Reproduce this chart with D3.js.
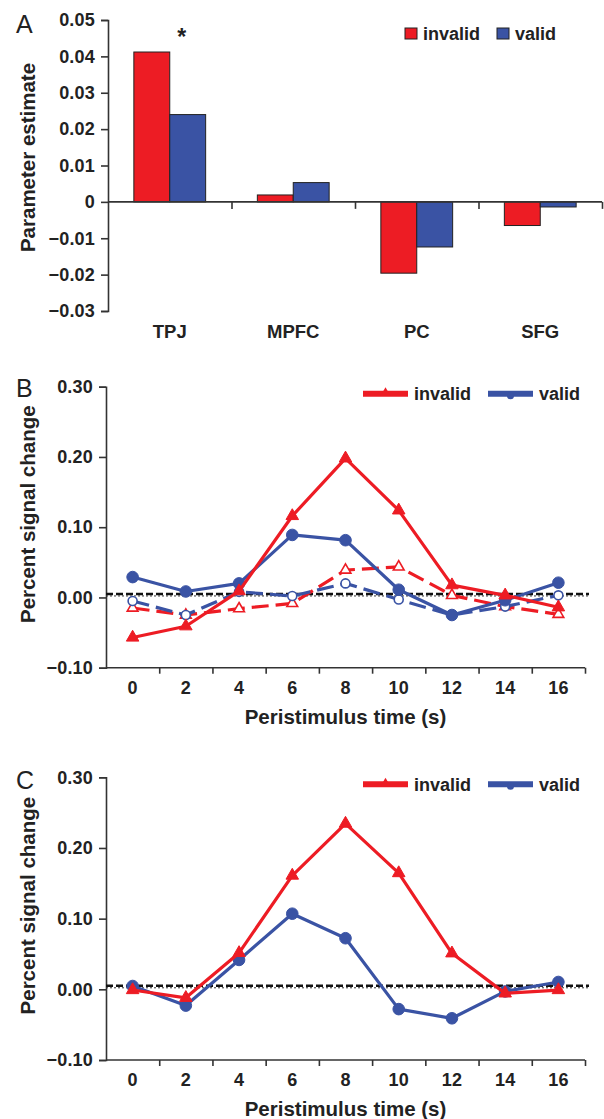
<!DOCTYPE html>
<html><head><meta charset="utf-8">
<script src="https://cdn.jsdelivr.net/npm/d3@7"></script>
<style>
html,body{margin:0;padding:0;background:#fff;}
svg{display:block;font-family:"Liberation Sans",Arial,sans-serif;}
.tick text{font-weight:bold;}
</style></head>
<body><svg id="c" width="604" height="1119"></svg>
<script>
// ---------- Data ----------
const categories = ["TPJ","MPFC","PC","SFG"];
const seriesNames = ["invalid","valid"];
const aInvalid = [0.0412, 0.0019, -0.0196, -0.0065];
const aValid   = [0.0240, 0.0053, -0.0124, -0.0014];
const aTicks = [-0.03,-0.02,-0.01,0,0.01,0.02,0.03,0.04,0.05];

const times = [0,2,4,6,8,10,12,14,16];
const bInvalid       = [-0.057,-0.041, 0.009, 0.116, 0.198, 0.124, 0.0175, 0.003,-0.014];
const bValid         = [ 0.029, 0.0085, 0.020, 0.089, 0.0815, 0.011,-0.025,-0.004, 0.021];
const bInvalidDashed = [-0.015,-0.025,-0.016,-0.0085, 0.039, 0.0435, 0.003,-0.013,-0.024];
const bValidDashed   = [-0.005,-0.025, 0.008, 0.002, 0.020,-0.003,-0.025,-0.013, 0.003];
const cInvalid = [-0.001,-0.012, 0.0515, 0.161, 0.2345, 0.1645, 0.051,-0.0057,-0.001];
const cValid   = [ 0.0047,-0.023, 0.0416, 0.107, 0.0723,-0.028,-0.041,-0.003, 0.0104];
const lineTicks = [-0.10,0.00,0.10,0.20,0.30];
const baselineValue = 0.005;

const RED = "#ed1c24", BLUE = "#3a53a4", AX = "#333";
const svg = d3.select("#c");
const tickFont = "18px", titleFont = "20.5px";

function styleAxis(g){
  g.selectAll(".domain").attr("stroke",AX).attr("stroke-width",1.6);
  g.selectAll(".tick line").attr("stroke",AX).attr("stroke-width",1.6);
  g.selectAll(".tick text").attr("fill","#222").style("font-size",tickFont).style("letter-spacing","0.2px");
}

// ---------- Panel A ----------
(function(){
  const left=108, right=602, top=20, bottom=311;
  const y = d3.scaleLinear().domain([-0.03,0.05]).range([bottom,top]);
  const x0 = d3.scaleBand().domain(categories).range([left,right]).padding(0);
  const x1 = d3.scaleBand().domain(seriesNames).range([0,x0.bandwidth()]).paddingInner(0).paddingOuter(0.72);
  const g = svg.append("g");
  const data = categories.map((c,i)=>({c, vals:[{s:"invalid",v:aInvalid[i]},{s:"valid",v:aValid[i]}]}));
  g.selectAll("g.cat").data(data).join("g").attr("transform",d=>`translate(${x0(d.c)},0)`)
    .selectAll("rect").data(d=>d.vals).join("rect")
    .attr("x",d=>x1(d.s)).attr("width",x1.bandwidth())
    .attr("y",d=>y(Math.max(0,d.v))).attr("height",d=>Math.abs(y(d.v)-y(0)))
    .attr("fill",d=>d.s==="invalid"?RED:BLUE).attr("stroke","#222").attr("stroke-width",1);
  const ya = g.append("g").attr("transform",`translate(${left},0)`)
    .call(d3.axisLeft(y).tickValues(aTicks).tickSize(7).tickPadding(6).tickFormat(d=>Math.abs(d)<1e-9?"0":d3.format(".2f")(d)));
  styleAxis(ya);
  const bnd = d3.scaleLinear().domain([0,categories.length]).range([left,right]);
  const xa = g.append("g").attr("transform",`translate(0,${y(0)})`)
    .call(d3.axisBottom(bnd).tickValues([1,2,3,4]).tickSize(7).tickFormat(""));
  styleAxis(xa);
  xa.select(".domain").attr("d",`M${left},0H${right}`);
  const xl = g.append("g").attr("transform",`translate(0,${bottom+14})`)
    .call(d3.axisBottom(x0).tickSize(0).tickPadding(0));
  xl.select(".domain").remove();
  xl.selectAll(".tick text").attr("fill","#222").style("font-size","18.5px").attr("dy","0.72em");
  g.append("text").attr("x",x0("TPJ")+x0.bandwidth()/2+12).attr("y",45).attr("text-anchor","middle")
    .style("font-size","23px").style("font-weight","bold").attr("fill","#222").text("*");
  g.append("text").attr("transform",`translate(35,${(top+bottom)/2-8}) rotate(-90)`).attr("text-anchor","middle")
    .style("font-size",titleFont).style("font-weight","bold").attr("fill","#222").text("Parameter estimate");
  g.append("text").attr("x",16).attr("y",33).style("font-size","25px").attr("fill","#222").text("A");
  const items=[{s:"invalid",x:405,c:RED},{s:"valid",x:497,c:BLUE}];
  items.forEach(it=>{
    g.append("rect").attr("x",it.x).attr("y",28).attr("width",12).attr("height",11).attr("fill",it.c).attr("stroke","#222").attr("stroke-width",1);
    g.append("text").attr("x",it.x+18).attr("y",40).style("font-size","18px").style("font-weight","bold").attr("fill","#222").text(it.s);
  });
})();

// ---------- Line panels ----------
function linePanel(opt){
  const left=106, right=585, top=opt.top, bottom=opt.bottom;
  const y = d3.scaleLinear().domain([-0.10,0.30]).range([bottom,top]);
  const x = d3.scaleBand().domain(times).range([left,right]).padding(0);
  const cx = t=>x(t)+x.bandwidth()/2;
  const g = svg.append("g");
  const ya = g.append("g").attr("transform",`translate(${left},0)`)
    .call(d3.axisLeft(y).tickValues(lineTicks).tickSize(7).tickPadding(6).tickFormat(d3.format(".2f")));
  styleAxis(ya);
  const bnd = d3.scaleLinear().domain([0,times.length]).range([left,right]);
  const xa = g.append("g").attr("transform",`translate(0,${bottom})`)
    .call(d3.axisBottom(bnd).tickValues(d3.range(1,times.length+1)).tickSize(6).tickFormat(""));
  styleAxis(xa);
  xa.select(".domain").attr("d",`M${left},0H${right}`);
  const xl = g.append("g").attr("transform",`translate(0,${bottom+13})`)
    .call(d3.axisBottom(x).tickSize(0).tickPadding(0));
  xl.select(".domain").remove();
  xl.selectAll(".tick text").attr("fill","#222").style("font-size",tickFont).style("letter-spacing","0.2px").attr("dy","0.72em");
  g.append("line").attr("x1",left).attr("x2",589).attr("y1",y(baselineValue)).attr("y2",y(baselineValue))
    .attr("stroke","#111").attr("stroke-width",2.4).attr("stroke-dasharray","7,3");
  g.append("line").attr("x1",left).attr("x2",589).attr("y1",y(baselineValue)+2).attr("y2",y(baselineValue)+2)
    .attr("stroke","#333").attr("stroke-width",1).attr("stroke-dasharray","2,2");
  const line = d3.line().x((d,i)=>cx(times[i])).y(d=>y(d));
  const tri = d3.symbol().type(d3.symbolTriangle);
  opt.series.forEach(s=>{
    g.append("path").datum(s.values).attr("d",line).attr("fill","none").attr("stroke",s.color)
      .attr("stroke-width",3.2).attr("stroke-linejoin","round").attr("stroke-dasharray",s.dashed?"17,7":null);
    const m = g.append("g");
    s.values.forEach((v,i)=>{
      if(s.marker==="tri"){
        m.append("path").attr("d",tri.size(s.dashed?50:68)()).attr("transform",`translate(${cx(times[i])},${y(v)})`)
          .attr("fill",s.dashed?"#fff":s.color).attr("stroke",s.color).attr("stroke-width",s.dashed?1.6:1);
      } else {
        m.append("circle").attr("cx",cx(times[i])).attr("cy",y(v)).attr("r",s.dashed?4.5:5.8)
          .attr("fill",s.dashed?"#fff":s.color).attr("stroke",s.color).attr("stroke-width",s.dashed?1.6:1);
      }
    });
  });
  g.append("text").attr("transform",`translate(35,${(top+bottom)/2-13}) rotate(-90)`).attr("text-anchor","middle")
    .style("font-size",titleFont).style("font-weight","bold").attr("fill","#222").text("Percent signal change");
  g.append("text").attr("x",(left+right)/2).attr("y",bottom+56).attr("text-anchor","middle")
    .style("font-size",titleFont).style("font-weight","bold").attr("fill","#222").text("Peristimulus time (s)");
  g.append("text").attr("x",16).attr("y",opt.letterY).style("font-size","25px").attr("fill","#222").text(opt.letter);
  const ly = top+7;
  const items=[{s:"invalid",x:363,c:RED,m:"tri"},{s:"valid",x:488,c:BLUE,m:"circ"}];
  items.forEach(it=>{
    g.append("line").attr("x1",it.x).attr("x2",it.x+45).attr("y1",ly).attr("y2",ly).attr("stroke",it.c).attr("stroke-width",6);
    if(it.m==="tri") g.append("path").attr("d",tri.size(40)()).attr("transform",`translate(${it.x+22.5},${ly-1})`).attr("fill",it.c);
    else g.append("circle").attr("cx",it.x+22.5).attr("cy",ly+2).attr("r",3.5).attr("fill",it.c);
    g.append("text").attr("x",it.x+51).attr("y",ly+6.5).style("font-size","18px").style("font-weight","bold").attr("fill","#222").text(it.s);
  });
}

linePanel({top:386.7,bottom:667.7,letter:"B",letterY:397,series:[
  {values:bInvalidDashed,color:RED,marker:"tri",dashed:true},
  {values:bValidDashed,color:BLUE,marker:"circ",dashed:true},
  {values:bValid,color:BLUE,marker:"circ",dashed:false},
  {values:bInvalid,color:RED,marker:"tri",dashed:false}
]});
linePanel({top:777.3,bottom:1060,letter:"C",letterY:789,series:[
  {values:cValid,color:BLUE,marker:"circ",dashed:false},
  {values:cInvalid,color:RED,marker:"tri",dashed:false}
]});
</script></body></html>
